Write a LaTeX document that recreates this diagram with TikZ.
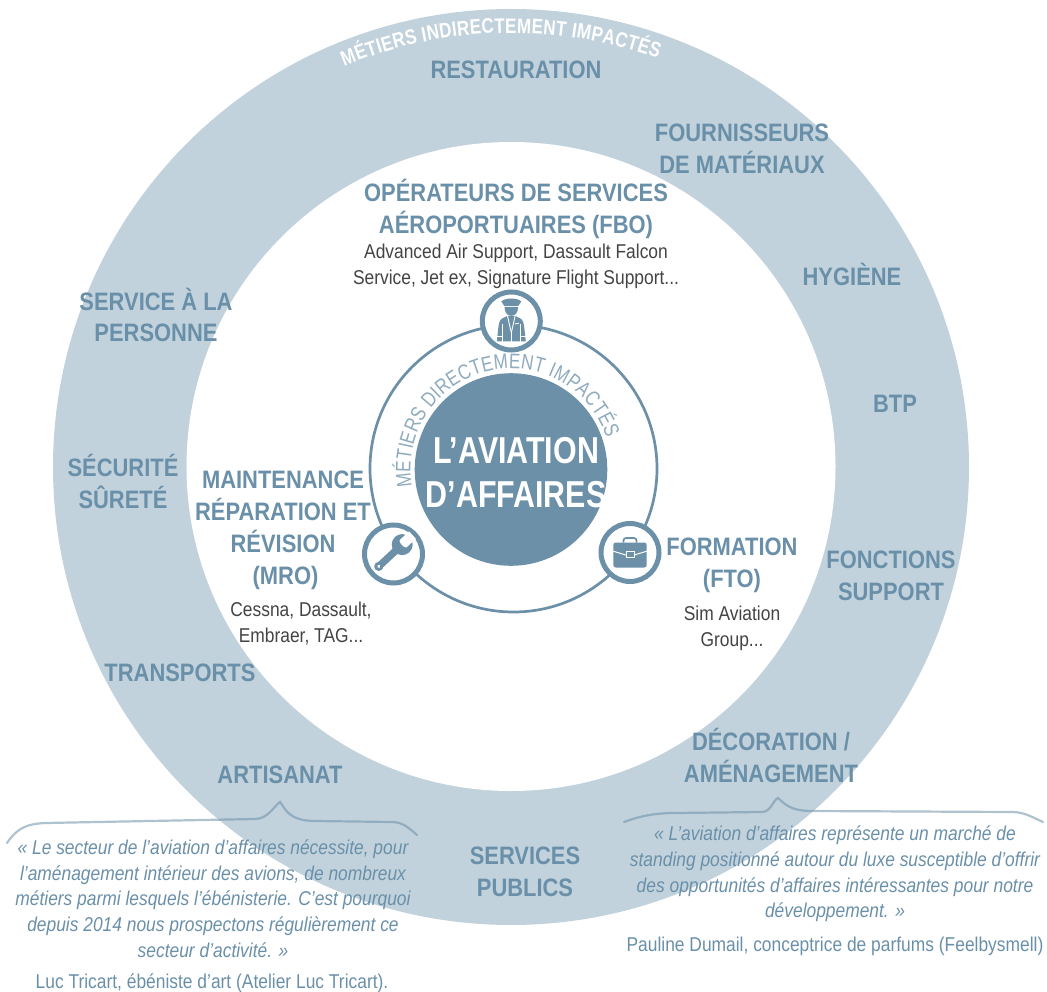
\documentclass[tikz,border=0pt]{standalone}
\usepackage{fontspec}
\usetikzlibrary{decorations.text}
\setmainfont{Liberation Sans}
\newfontfamily\nar[FakeStretch=.87]{Liberation Sans}
\newfontfamily\narc[FakeStretch=.81]{Liberation Sans}
\definecolor{ringc}{HTML}{C1D2DC}
\definecolor{darkc}{HTML}{6C90A8}
\definecolor{headc}{HTML}{6A90A9}
\definecolor{bodyc}{HTML}{444444}
\definecolor{softc}{HTML}{8FABBE}
\tikzset{
  headtxt/.style={text=headc,align=center,inner sep=0pt,font=\nar\fontsize{25.2}{31.9}\selectfont\bfseries},
  bodytxt/.style={text=bodyc,align=center,inner sep=0pt,font=\nar\fontsize{20}{26.3}\selectfont},
  quotetxt/.style={text=headc,align=center,inner sep=0pt,font=\nar\fontsize{20}{25.7}\selectfont\itshape},
  authortxt/.style={text=headc,align=center,inner sep=0pt,font=\nar\fontsize{20}{25}\selectfont},
  centertxt/.style={text=white,align=center,inner sep=0pt,font=\narc\fontsize{37.5}{44}\selectfont\bfseries},
  iconring/.style={circle,draw=darkc,fill=white,line width=5pt,minimum size=58pt,inner sep=0pt},
  bracket/.style={draw=darkc,opacity=.55,line width=2.2pt,line cap=round},
  iconcut/.style={draw=white,line width=.9pt}
}
\begin{document}
\begin{tikzpicture}[x=1pt,y=1pt]
\useasboundingbox (0,-992) rectangle (1047,0);
% rings
\fill[ringc] (511,-467) circle (458);
\fill[white] (511,-466.5) circle (324.5);
% brackets
\draw[bracket] (7,-843) .. controls (16,-830) and (24,-824) .. (45,-823) -- (255,-819) .. controls (268,-819) and (274,-806) .. (280,-802) .. controls (285,-808) and (288,-821) .. (315,-821) -- (392,-822) .. controls (402,-822) and (408,-827) .. (417,-835);
\draw[bracket] (624,-822) .. controls (640,-816) and (655,-813) .. (675,-813) -- (762,-812) .. controls (771,-812) and (773,-800) .. (778,-798) .. controls (785,-804) and (790,-811) .. (812,-811) -- (1012,-812) .. controls (1024,-812) and (1032,-817) .. (1043,-822);
% inner ring and disc
\draw[darkc,line width=2.7pt] (513.5,-468.5) circle (143.5);
\fill[darkc] (511,-469.5) circle (96.3);
% curved texts
\path[decorate,decoration={text along path,text align={fit to path},text format delimiters={|}{|},
  text={|\narc\fontsize{21}{22}\selectfont\bfseries\color{white}|MÉTIERS INDIRECTEMENT IMPACTÉS}}]
  (511,-467) ++(112.6:434) arc[start angle=112.6,end angle=70.2,radius=434];
\path[decorate,decoration={text along path,text align={fit to path},text format delimiters={|}{|},
  text={|\narc\fontsize{21}{22}\selectfont\color{softc}|MÉTIERS DIRECTEMENT IMPACTÉS}}]
  (511,-469) ++(190:100.5) arc[start angle=190,end angle=18,radius=100.5];
% centre
\node[centertxt] (centre) at (516,-473) {L’AVIATION\\D’AFFAIRES};
% icons
\node[iconring] (pilot) at (511.3,-321) {};
\node[iconring] (wrench) at (393.5,-554) {};
\node[iconring] (case) at (630,-552.5) {};
% pilot
\begin{scope}[shift={(pilot.center)}]
  \fill[darkc] (-10,19.5) .. controls (-6,23.5) and (6,23.5) .. (10,19.5) -- (7,15.2) -- (-7,15.2) -- cycle;
  \fill[darkc] (-6.8,14) -- (6.8,14) .. controls (6.8,8) and (3.5,5.2) .. (0,5.2) .. controls (-3.5,5.2) and (-6.8,8) .. (-6.8,14) -- cycle;
  \fill[darkc] (-4,5) -- (-9,2.6) .. controls (-12,1) and (-12.5,-3) .. (-13,-7) -- (-14.5,-20.5) -- (14.5,-20.5) -- (13,-7) .. controls (12.5,-3) and (12,1) .. (9,2.6) -- (4,5) -- cycle;
  \draw[iconcut] (-3.8,5) -- (-.2,-11);
  \draw[iconcut] (3.8,5) -- (.2,-11);
  \draw[iconcut] (0,-11) -- (0,-21);
  \draw[iconcut] (-9,-3) -- (-9,-21);
  \draw[iconcut] (9,-3) -- (9,-21);
  \draw[iconcut] (-14.5,-15) -- (-9,-15);
  \draw[iconcut] (14.5,-15) -- (9,-15);
  \draw[iconcut] (3.5,-3) -- (7.5,-2.2);
\end{scope}
% wrench
\begin{scope}[shift={(wrench.center)},shift={(-3,-1.5)},rotate=43]
  \fill[darkc] (-15.5,-3.6) -- (8,-3.6) -- (8,3.6) -- (-15.5,3.6) -- cycle;
  \fill[darkc] (-16,0) circle (4.6);
  \fill[white] (-16,0) circle (1.7);
  \fill[darkc] (16,0) circle (10.5);
  \fill[white] (17,-5) -- (30,-5) -- (30,5) -- (17,5) .. controls (15,3) and (15,-3) .. (17,-5) -- cycle;
\end{scope}
% case
\begin{scope}[shift={(case.center)}]
  \draw[darkc,line width=1.7pt,rounded corners=2.5pt] (-6.5,10) -- (-6.5,14.5) -- (6.5,14.5) -- (6.5,10);
  \fill[darkc,rounded corners=2.5pt] (-16.7,10) rectangle (16.7,-15);
  \draw[white,line width=1pt] (-16.7,1.3) -- (-4,-2.6);
  \draw[white,line width=1pt] (16.7,1.3) -- (4,-2.6);
  \draw[white,line width=1pt] (-4,.8) rectangle (4,-5);
\end{scope}
% ring labels
\node[headtxt] (n1) at (516,-70) {RESTAURATION};
\node[headtxt] (n2) at (742,-149) {FOURNISSEURS\\DE MATÉRIAUX};
\node[headtxt] (n3) at (852,-274) {HYGIÈNE};
\node[headtxt] (n4) at (895,-404) {BTP};
\node[headtxt] (n5) at (891,-576) {FONCTIONS\\SUPPORT};
\node[headtxt] (n6) at (771,-755.5) {DÉCORATION /\\AMÉNAGEMENT};
\node[headtxt] (n7) at (525,-871.5) {SERVICES\\PUBLICS};
\node[headtxt] (n8) at (280,-775) {ARTISANAT};
\node[headtxt] (n9) at (180,-673) {TRANSPORTS};
\node[headtxt] (n10) at (123,-481.5) {SÉCURITÉ\\SÛRETÉ};
\node[headtxt] (n11) at (156,-315) {SERVICE À LA\\PERSONNE};
% inner labels
\node[headtxt] (fbo) at (516,-209) {OPÉRATEURS DE SERVICES\\AÉROPORTUAIRES (FBO)};
\node[bodytxt] (fbod) at (516,-266.5) {Advanced Air Support, Dassault Falcon\\Service, Jet ex, Signature Flight Support...};
\node[headtxt] (mro) at (283,-530) {MAINTENANCE\\RÉPARATION ET\\RÉVISION\\\hspace{5pt}(MRO)};
\node[bodytxt] (mrod) at (301,-623.5) {Cessna, Dassault,\\Embraer, TAG...};
\node[headtxt] (fto) at (732,-565) {FORMATION\\(FTO)};
\node[bodytxt] (ftod) at (732,-628) {Sim Aviation\\Group...};
% quotes
\node[quotetxt] (q1) at (213,-898.5) {« Le secteur de l’aviation d’affaires nécessite, pour\\l’aménagement intérieur des avions, de nombreux\\métiers parmi lesquels l’ébénisterie. C’est pourquoi\\depuis 2014 nous prospectons régulièrement ce\\secteur d’activité. »};
\node[authortxt] (a1) at (212,-983) {Luc Tricart, ébéniste d’art (Atelier Luc Tricart).};
\node[quotetxt] (q2) at (835,-874) {« L’aviation d’affaires représente un marché de\\standing positionné autour du luxe susceptible d’offrir\\des opportunités d’affaires intéressantes pour notre\\développement. »};
\node[authortxt] (a2) at (835,-946) {Pauline Dumail, conceptrice de parfums (Feelbysmell)};
\end{tikzpicture}
\end{document}
